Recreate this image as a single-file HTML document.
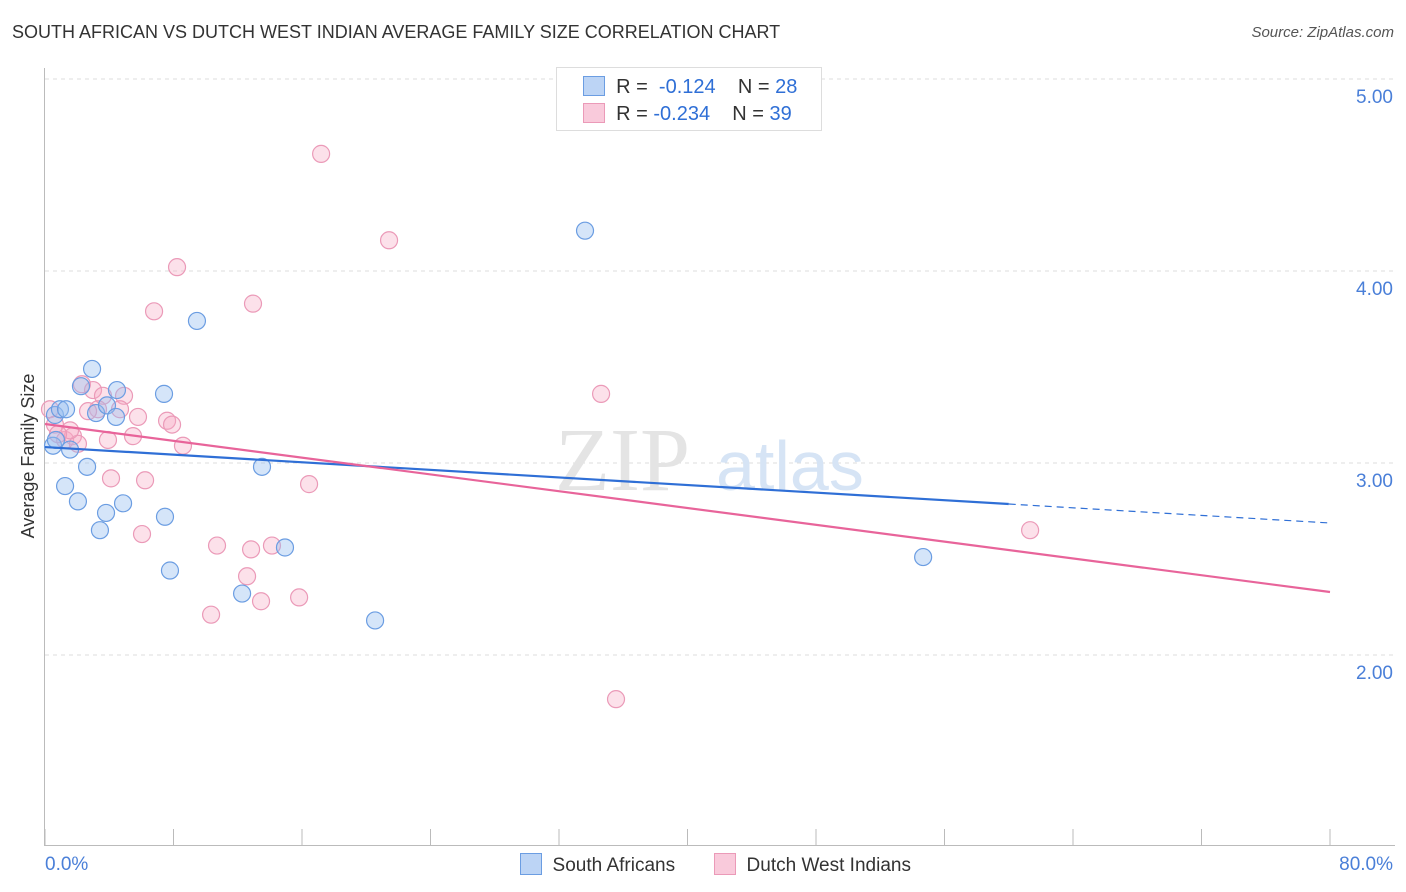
<!DOCTYPE html>
<html><head><meta charset="utf-8">
<style>
body{margin:0;background:#fff;font-family:"Liberation Sans",sans-serif;}
#wrap{position:relative;width:1406px;height:892px;overflow:hidden}
.t{position:absolute;white-space:nowrap}
</style></head>
<body>
<div id="wrap">
<div class="t" style="left:12px;top:22px;font-size:18px;color:#333">SOUTH AFRICAN VS DUTCH WEST INDIAN AVERAGE FAMILY SIZE CORRELATION CHART</div>
<div class="t" style="right:12px;top:24px;font-size:15px;color:#555;font-style:italic">Source: ZipAtlas.com</div>
<svg id="svg" width="1406" height="892" style="position:absolute;left:0;top:0"></svg>
</div>
<script>
const blueX=[0.62,0.93,0.50,0.68,1.31,1.56,2.93,2.24,3.18,2.62,1.25,2.05,3.42,3.80,4.86,4.48,3.86,4.42,7.41,7.47,7.78,9.46,12.27,13.51,14.94,20.55,33.62,54.67];
const blueY=[3.25,3.28,3.09,3.12,3.28,3.07,3.49,3.40,3.26,2.98,2.88,2.80,2.65,2.74,2.79,3.38,3.30,3.24,3.36,2.72,2.44,3.74,2.32,2.98,2.56,2.18,4.21,2.51];
const pinkX=[0.31,0.62,1.25,1.74,2.05,1.56,2.30,2.99,3.61,3.30,2.68,3.92,4.11,4.92,4.67,5.48,5.79,6.23,6.04,6.79,7.60,7.91,8.22,8.59,10.34,10.71,12.58,12.83,12.95,13.45,14.13,15.82,16.44,17.19,21.42,34.62,35.55,61.33,0.81];
const pinkY=[3.28,3.20,3.12,3.14,3.10,3.17,3.41,3.38,3.35,3.28,3.27,3.12,2.92,3.35,3.28,3.14,3.24,2.91,2.63,3.79,3.22,3.20,4.02,3.09,2.21,2.57,2.41,2.55,3.83,2.28,2.57,2.30,2.89,4.61,4.16,3.36,1.77,2.65,3.15];
const blueTrend=[3.083,2.6875];
const pinkTrend=[3.203,2.328];
const blueSolidEnd=60;
const yTicks=[2,3,4,5];
const yTickLabels=["2.00","3.00","4.00","5.00"];
const xTicks=[0,8,16,24,32,40,48,56,64,72,80];

const X0=45,X1=1330,Y0=847,Y1=79;
const xs=v=>X0+(v/80)*(X1-X0);
const ys=v=>Y0-(v-1)/4*(Y0-Y1);
const svg=document.getElementById('svg');
const NS='http://www.w3.org/2000/svg';
function mk(tag,attrs){const e=document.createElementNS(NS,tag);for(const k in attrs)e.setAttribute(k,attrs[k]);svg.appendChild(e);return e;}

yTicks.forEach((t,i)=>{
  const g=mk('line',{x1:45,x2:1395,y1:ys(t),y2:ys(t),stroke:'#ddd','stroke-dasharray':'4,4'});
  
  
  const tx=mk('text',{x:1393,y:ys(t)+24,'text-anchor':'end','font-size':19,fill:'#4a7fd8','font-family':'Liberation Sans, sans-serif'});
  tx.textContent=yTickLabels[i];
  
  
});
let ax=mk('line',{x1:44.5,x2:44.5,y1:68,y2:846,stroke:'#bbb'});


let bx=mk('line',{x1:44,x2:1395,y1:845.5,y2:845.5,stroke:'#bbb'});


xTicks.forEach(t=>{
  const l=mk('line',{x1:xs(t),x2:xs(t),y1:829,y2:845,stroke:'#bbb'});
  
  
});
[[0,'0.0%','start',45],[80,'80.0%','end',1393]].forEach(a=>{
  const tx=mk('text',{x:a[3],y:870,'text-anchor':a[2],'font-size':19,fill:'#4a7fd8','font-family':'Liberation Sans, sans-serif'});
  tx.textContent=a[1];
  
  
});
// watermark
let w1=mk('text',{x:555,y:490,'font-size':90,fill:'#e4e4e4','font-family':'Liberation Serif, serif'});w1.textContent='ZIP';


let w2=mk('text',{x:716,y:490,'font-size':70,fill:'#d6e4f5','font-family':'Liberation Sans, sans-serif'});w2.textContent='atlas';



// y axis title
let yt=mk('text',{x:34,y:456,'text-anchor':'middle','font-size':18,fill:'#333',transform:'rotate(-90 34 456)','font-family':'Liberation Sans, sans-serif'});
yt.textContent='Average Family Size';



pinkX.forEach((x,i)=>{
  const c=mk('circle',{cx:xs(x),cy:ys(pinkY[i]),r:8.5,fill:'rgba(245,170,195,0.35)',stroke:'#eb9ab8','stroke-width':1.2});
  
  
});
blueX.forEach((x,i)=>{
  const c=mk('circle',{cx:xs(x),cy:ys(blueY[i]),r:8.5,fill:'rgba(150,190,240,0.4)',stroke:'#6b9de2','stroke-width':1.2});
  
  
});
const bAt=x=>blueTrend[0]+(blueTrend[1]-blueTrend[0])*x/80;
let bl=mk('line',{x1:xs(0),y1:ys(bAt(0)),x2:xs(blueSolidEnd),y2:ys(bAt(blueSolidEnd)),stroke:'#2f6fd6','stroke-width':2.2});


let bd=mk('line',{x1:xs(blueSolidEnd),y1:ys(bAt(blueSolidEnd)),x2:xs(80),y2:ys(bAt(80)),stroke:'#2f6fd6','stroke-width':1.2,'stroke-dasharray':'7,5'});


let pl=mk('line',{x1:xs(0),y1:ys(pinkTrend[0]),x2:xs(80),y2:ys(pinkTrend[1]),stroke:'#e8649a','stroke-width':2.2});


</script>
<div class="t" style="left:556px;top:67px;width:264px;height:62px;border:1px solid #ddd;background:#fff;font-size:20px;color:#333">
  <div style="position:absolute;left:26px;top:8px"><span style="display:inline-block;width:20px;height:18px;background:#bcd4f5;border:1px solid #6b9de2;vertical-align:-3px"></span>&nbsp; R = &nbsp;<span style="color:#2f6fd6">-0.124</span>&nbsp;&nbsp;&nbsp; N = <span style="color:#2f6fd6">28</span></div>
  <div style="position:absolute;left:26px;top:35px"><span style="display:inline-block;width:20px;height:18px;background:#f9cadb;border:1px solid #eb9ab8;vertical-align:-3px"></span>&nbsp; R = <span style="color:#2f6fd6">-0.234</span>&nbsp;&nbsp;&nbsp; N = <span style="color:#2f6fd6">39</span></div>
</div>
<div class="t" style="left:520px;top:853px;font-size:19px;color:#333"><span style="display:inline-block;width:20px;height:20px;background:#bcd4f5;border:1px solid #6b9de2;vertical-align:-4px"></span>&nbsp; South Africans</div>
<div class="t" style="left:714px;top:853px;font-size:19px;color:#333"><span style="display:inline-block;width:20px;height:20px;background:#f9cadb;border:1px solid #eb9ab8;vertical-align:-4px"></span>&nbsp; Dutch West Indians</div>
</body></html>
